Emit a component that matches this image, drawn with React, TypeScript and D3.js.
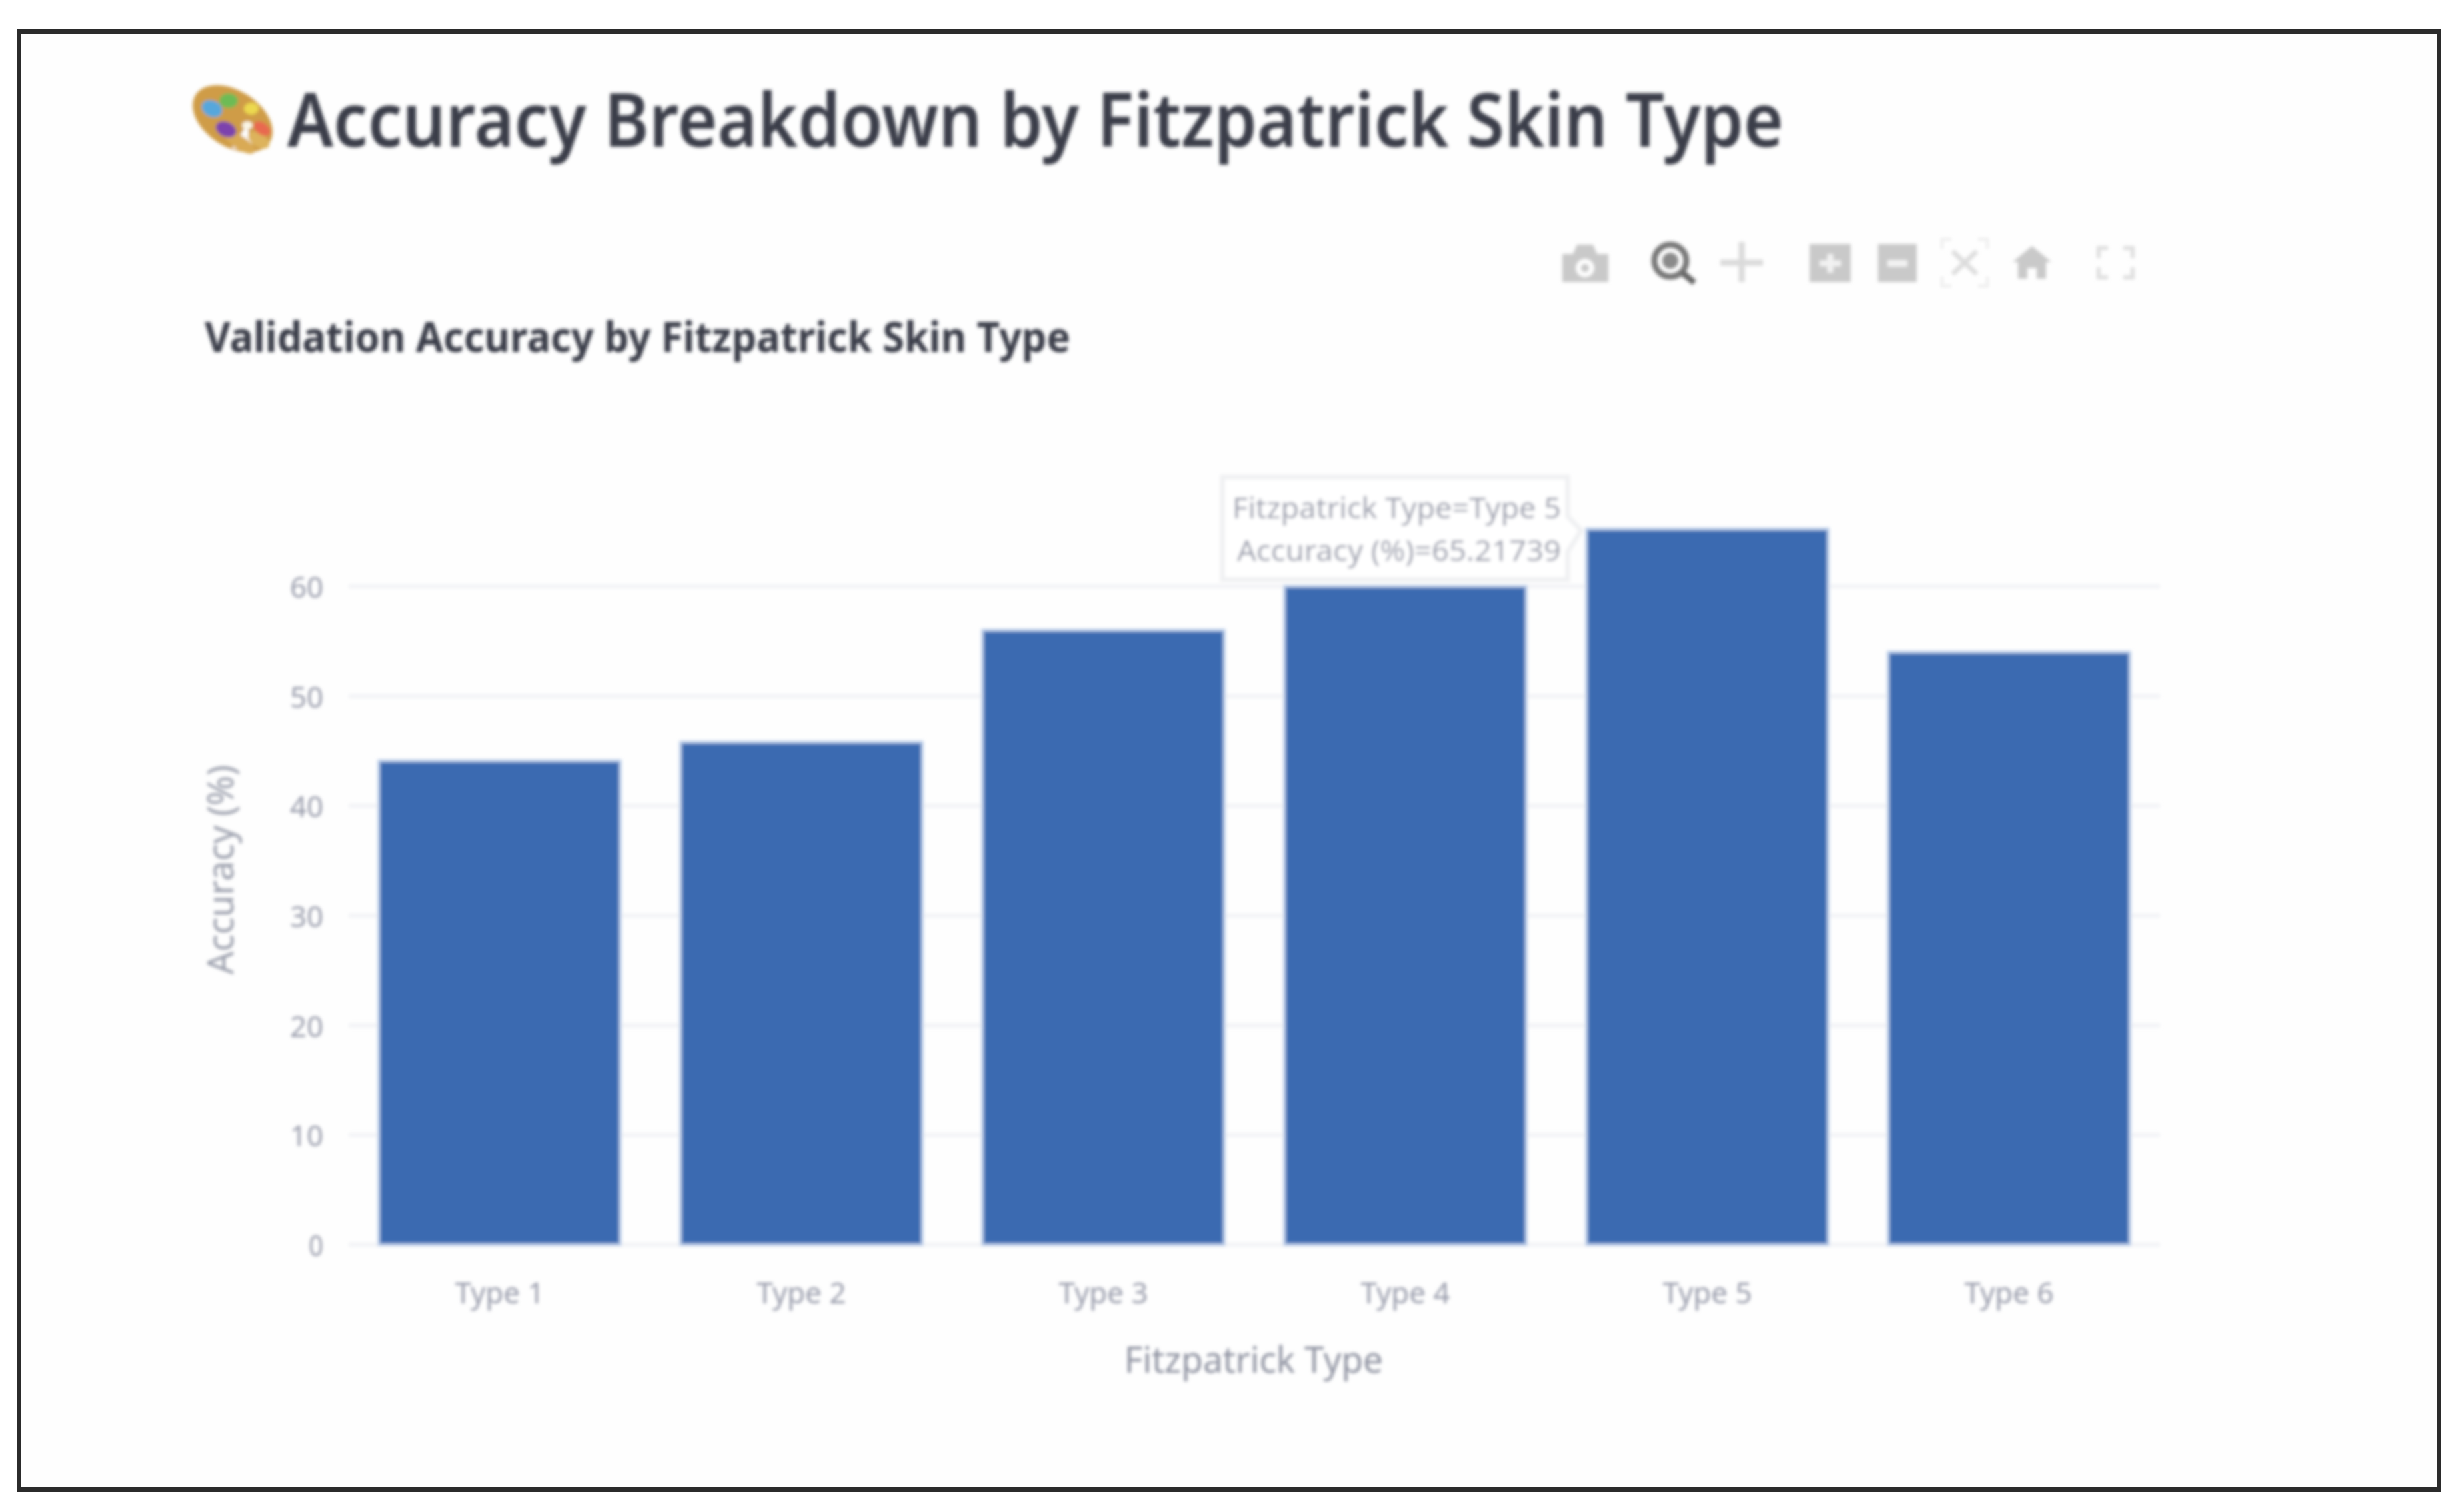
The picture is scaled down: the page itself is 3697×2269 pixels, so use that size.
import React from "react";
import * as d3 from "d3";

const categories = ["Type 1", "Type 2", "Type 3", "Type 4", "Type 5", "Type 6"];
const accuracy = [44.1, 45.8, 56, 60, 65.21739, 54];
const yTicks = [0, 10, 20, 30, 40, 50, 60];
const tooltipLines = ["Fitzpatrick Type=Type 5", "Accuracy (%)=65.21739"];

const W = 3697;
const H = 2269;
const FONT = "'Noto Sans', 'Open Sans', sans-serif";
const INK = "#3a3d49";
const MUTED = "#999cab";
const ICON = "#c9c9c9";

const x = d3.scaleBand<string>().domain(categories).range([523, 3241]).paddingInner(0.2).paddingOuter(0.1);
const y = d3.scaleLinear().domain([0, 60]).range([1868, 880]);

function Palette() {
  return (
    <g>
      <ellipse cx="349" cy="178" rx="66" ry="42" transform="rotate(33 349 178)" fill="#cf9c47" />
      <path d="M372 190L384 232L350 224Z" fill="#fefefe" transform="translate(-2 -2)" />
      <ellipse cx="360" cy="214" rx="26" ry="10" transform="rotate(33 360 214)" fill="#d9aa55" />
      <ellipse cx="388" cy="210" rx="18" ry="10" transform="rotate(33 388 210)" fill="#ddb35c" />
      <ellipse cx="343" cy="151" rx="14" ry="11" fill="#6dbb54" />
      <ellipse cx="318" cy="163" rx="16" ry="12" transform="rotate(25 318 163)" fill="#57a7dc" />
      <ellipse cx="377" cy="163" rx="11" ry="9" fill="#ecd94f" />
      <ellipse cx="393" cy="193" rx="14" ry="9" transform="rotate(35 393 193)" fill="#e8694f" />
      <ellipse cx="339" cy="194" rx="16" ry="11" transform="rotate(25 339 194)" fill="#7c43ad" />
      <ellipse cx="371" cy="188" rx="8" ry="6" fill="#fbf6e6" />
    </g>
  );
}

function Toolbar() {
  return (
    <g transform="translate(0 3)">
      {/* camera */}
      <path fillRule="evenodd" fill={ICON} d="M2344 378h16l6-14h24l6 14h17v42h-69zM2378 385a14 14 0 1 0 .01 0zM2378 393a6 6 0 1 1-.01 0z" />
      {/* zoom */}
      <circle cx="2506" cy="388" r="24" fill="none" stroke="#777" strokeWidth="9" />
      <circle cx="2506" cy="388" r="12" fill="#8a8a8a" />
      <path d="M2524 406l18 15" stroke="#666" strokeWidth="9" />
      {/* pan */}
      <path d="M2613 360v60M2581 391h64" stroke="#dadada" strokeWidth="9" />
      {/* zoom in */}
      <rect x="2715" y="363" width="62" height="57" fill={ICON} />
      <path d="M2746 378v28M2730 392h32" stroke="#f2f2f2" strokeWidth="9" />
      {/* zoom out */}
      <rect x="2818" y="363" width="58" height="57" fill={ICON} />
      <path d="M2832 392h30" stroke="#f2f2f2" strokeWidth="10" />
      {/* autoscale */}
      <path d="M2930 374l36 34M2966 374l-36 34" stroke="#dcdcdc" strokeWidth="7" />
      <path d="M2914 370v-14h14M2968 356h14v14M2982 412v14h-14M2928 426h-14v-14" fill="none" stroke="#ececec" strokeWidth="4" />
      {/* home */}
      <path fill={ICON} d="M3049 366l29 24h-8v25h-14v-16h-14v16h-14v-25h-8z" />
      {/* fullscreen */}
      <path d="M3149 384v-15h14M3186 369h14v15M3200 398v15h-14M3163 413h-14v-15" fill="none" stroke="#dedede" strokeWidth="6" />
    </g>
  );
}

export default function App() {
  const bw = x.bandwidth();
  const active = x("Type 5")!;
  return (
    <svg width={W} height={H} viewBox={`0 0 ${W} ${H}`} style={{ position: "absolute", left: 0, top: 0, background: "#fff" }}>
      <defs>
        <filter id="soft" x="-2%" y="-2%" width="104%" height="104%">
          <feGaussianBlur stdDeviation="2.4" />
        </filter>
      </defs>
      <rect x="28.5" y="47.5" width="3631" height="2188" fill="#fefefe" stroke="#2b2b2b" strokeWidth="7" />
      <g filter="url(#soft)">
        <Palette />
        <text x="431" y="220" fontFamily={FONT} fontSize="112" fontWeight="600" fill={INK} textLength="2245" lengthAdjust="spacingAndGlyphs">
          Accuracy Breakdown by Fitzpatrick Skin Type
        </text>
        <Toolbar />
        <text x="307" y="528" fontFamily={FONT} fontSize="62" fontWeight="700" fill={INK} textLength="1299" lengthAdjust="spacingAndGlyphs">
          Validation Accuracy by Fitzpatrick Skin Type
        </text>

        {yTicks.map((t) => (
          <g key={t}>
            <line x1={x.range()[0]} x2={x.range()[1]} y1={y(t)} y2={y(t)} stroke="#f2f3f6" strokeWidth="6" />
            <text x="485" y={y(t) + 17} textAnchor="end" fontFamily={FONT} fontSize="44" fill={MUTED} textLength={t === 0 ? 22 : 50} lengthAdjust="spacingAndGlyphs">
              {t}
            </text>
          </g>
        ))}

        {categories.map((c, i) => (
          <g key={c}>
            <rect x={x(c)} y={y(accuracy[i])} width={bw} height={y(0) - y(accuracy[i])} fill="#3b6bb1" stroke="#b7cbe8" strokeWidth="4" />
            <text x={x(c)! + bw / 2} y="1956" textAnchor="middle" fontFamily={FONT} fontSize="44" fill={MUTED} textLength="134" lengthAdjust="spacingAndGlyphs">
              {c}
            </text>
          </g>
        ))}

        <text x="1881" y="2060" textAnchor="middle" fontFamily={FONT} fontSize="54" fill="#8f93a1" textLength="388" lengthAdjust="spacingAndGlyphs">
          Fitzpatrick Type
        </text>
        <text transform="translate(350 1305) rotate(-90)" textAnchor="middle" fontFamily={FONT} fontSize="54" fill="#9a9eab" textLength="314" lengthAdjust="spacingAndGlyphs">
          Accuracy (%)
        </text>

        <path
          d={`M1834 716H2352V775L${active - 8} ${y(65.21739) + 2}L2352 828V870H1834Z`}
          fill="#fff"
          stroke="#eff0f2"
          strokeWidth="7"
        />
        {tooltipLines.map((l, i) => (
          <text key={l} x="2342" y={778 + i * 64} textAnchor="end" fontFamily={FONT} fontSize="44" fill={MUTED} textLength={i === 0 ? 493 : 486} lengthAdjust="spacingAndGlyphs">
            {l}
          </text>
        ))}
      </g>
    </svg>
  );
}
